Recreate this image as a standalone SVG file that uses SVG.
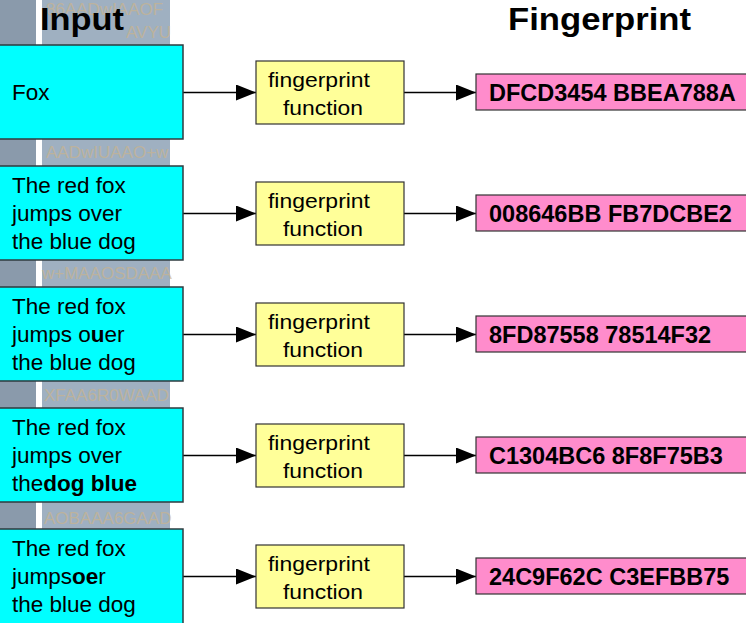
<svg xmlns="http://www.w3.org/2000/svg" width="746" height="623" viewBox="0 0 746 623">
  <style>
    .title { font-family: "Liberation Sans", Arial, sans-serif; font-weight: bold; font-size: 31px; fill: #000; }
    .in { fill: #00ffff; stroke: #2f3b3f; stroke-width: 1.5; }
    .fn { fill: #ffff99; stroke: #333; stroke-width: 1.2; }
    .fp { fill: #ff8ccc; stroke: #333; stroke-width: 1.2; }
    .t { font-family: "Liberation Sans", Arial, sans-serif; font-size: 22.5px; fill: #000; }
    .f { font-family: "Liberation Sans", Arial, sans-serif; font-size: 21px; fill: #000; }
    .hex { font-family: "Liberation Sans", Arial, sans-serif; font-size: 23.5px; font-weight: bold; fill: #000; }
    .b { font-weight: bold; }
    .bg { font-family: "Liberation Sans", Arial, sans-serif; font-size: 17px; fill: #c9b48f; opacity: 0.7; }
    .edge { stroke: #000; stroke-width: 1.5; fill: none; marker-end: url(#arrow); }
  </style>
  <defs>
    <marker id="arrow" viewBox="0 0 20 16" refX="20" refY="8" markerWidth="20" markerHeight="16" markerUnits="userSpaceOnUse" orient="auto">
      <path d="M0,0 L20,8 L0,16 Z" fill="#000"/>
    </marker>
  </defs>

  <rect width="746" height="623" fill="#ffffff"/>

  <!-- backdrop strips behind the input column -->
  <g id="backdrop">
    <rect x="0" y="0" width="36" height="623" fill="#8a9aab"/>
    <rect x="42" y="0" width="128" height="623" fill="#9fb0c1"/>
    <text class="bg" x="46" y="15">86AADwIAAOF</text>
    <text class="bg" x="126" y="38">AVYU</text>
    <text class="bg" x="46" y="158">AADwIUAAO+w</text>
    <text class="bg" x="42" y="279">w+MAAOSDAAA</text>
    <text class="bg" x="44" y="401">XFAA6R0WAAD</text>
    <text class="bg" x="44" y="524">AOBAAA6GAAD</text>
  </g>

  <text class="title" x="40" y="30" textLength="84" lengthAdjust="spacingAndGlyphs">Input</text>
  <text class="title" x="508" y="30" textLength="183" lengthAdjust="spacingAndGlyphs">Fingerprint</text>

  <!-- connectors -->
  <g id="connectors">
    <path class="edge" d="M183,92.5 H256"/>
    <path class="edge" d="M404,92.5 H476"/>
    <path class="edge" d="M183,213.5 H256"/>
    <path class="edge" d="M404,213.5 H476"/>
    <path class="edge" d="M183,334.5 H256"/>
    <path class="edge" d="M404,334.5 H476"/>
    <path class="edge" d="M183,455.5 H256"/>
    <path class="edge" d="M404,455.5 H476"/>
    <path class="edge" d="M183,576.5 H256"/>
    <path class="edge" d="M404,576.5 H476"/>
  </g>

  <!-- row 1 -->
  <g id="input1">
    <rect class="in" x="-2" y="45" width="185" height="94"/>
    <text class="t" x="12" y="100">Fox</text>
  </g>
  <g id="func1">
    <rect class="fn" x="256" y="61" width="148" height="63"/>
    <text class="f" x="268" y="87" textLength="102" lengthAdjust="spacingAndGlyphs">fingerprint</text>
    <text class="f" x="283" y="115" textLength="80" lengthAdjust="spacingAndGlyphs">function</text>
  </g>
  <g id="hash1">
    <rect class="fp" x="476" y="74" width="272" height="36"/>
    <text class="hex" x="489" y="101">DFCD3454 BBEA788A</text>
  </g>

  <!-- row 2 -->
  <g id="input2">
    <rect class="in" x="-2" y="166" width="185" height="94"/>
    <text class="t" x="12" y="193">The red fox</text>
    <text class="t" x="12" y="221">jumps over</text>
    <text class="t" x="12" y="249">the blue dog</text>
  </g>
  <g id="func2">
    <rect class="fn" x="256" y="182" width="148" height="63"/>
    <text class="f" x="268" y="208" textLength="102" lengthAdjust="spacingAndGlyphs">fingerprint</text>
    <text class="f" x="283" y="236" textLength="80" lengthAdjust="spacingAndGlyphs">function</text>
  </g>
  <g id="hash2">
    <rect class="fp" x="476" y="195" width="272" height="36"/>
    <text class="hex" x="489" y="222">008646BB FB7DCBE2</text>
  </g>

  <!-- row 3 -->
  <g id="input3">
    <rect class="in" x="-2" y="287" width="185" height="94"/>
    <text class="t" x="12" y="314">The red fox</text>
    <text class="t" x="12" y="342">jumps o<tspan class="b">u</tspan>er</text>
    <text class="t" x="12" y="370">the blue dog</text>
  </g>
  <g id="func3">
    <rect class="fn" x="256" y="303" width="148" height="63"/>
    <text class="f" x="268" y="329" textLength="102" lengthAdjust="spacingAndGlyphs">fingerprint</text>
    <text class="f" x="283" y="357" textLength="80" lengthAdjust="spacingAndGlyphs">function</text>
  </g>
  <g id="hash3">
    <rect class="fp" x="476" y="316" width="272" height="36"/>
    <text class="hex" x="489" y="343">8FD87558 78514F32</text>
  </g>

  <!-- row 4 -->
  <g id="input4">
    <rect class="in" x="-2" y="408" width="185" height="94"/>
    <text class="t" x="12" y="435">The red fox</text>
    <text class="t" x="12" y="463">jumps over</text>
    <text class="t" x="12" y="491">the<tspan class="b">dog blue</tspan></text>
  </g>
  <g id="func4">
    <rect class="fn" x="256" y="424" width="148" height="63"/>
    <text class="f" x="268" y="450" textLength="102" lengthAdjust="spacingAndGlyphs">fingerprint</text>
    <text class="f" x="283" y="478" textLength="80" lengthAdjust="spacingAndGlyphs">function</text>
  </g>
  <g id="hash4">
    <rect class="fp" x="476" y="437" width="272" height="36"/>
    <text class="hex" x="489" y="464">C1304BC6 8F8F75B3</text>
  </g>

  <!-- row 5 -->
  <g id="input5">
    <rect class="in" x="-2" y="529" width="185" height="100"/>
    <text class="t" x="12" y="556">The red fox</text>
    <text class="t" x="12" y="584">jumps<tspan class="b">oe</tspan>r</text>
    <text class="t" x="12" y="612">the blue dog</text>
  </g>
  <g id="func5">
    <rect class="fn" x="256" y="545" width="148" height="63"/>
    <text class="f" x="268" y="571" textLength="102" lengthAdjust="spacingAndGlyphs">fingerprint</text>
    <text class="f" x="283" y="599" textLength="80" lengthAdjust="spacingAndGlyphs">function</text>
  </g>
  <g id="hash5">
    <rect class="fp" x="476" y="558" width="272" height="36"/>
    <text class="hex" x="489" y="585">24C9F62C C3EFBB75</text>
  </g>
</svg>
